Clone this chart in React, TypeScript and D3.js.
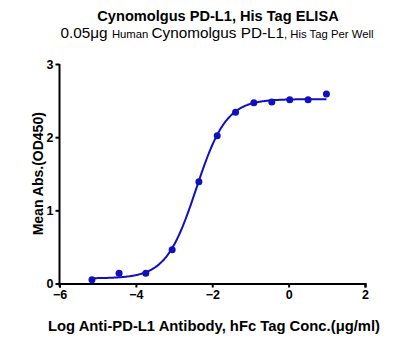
import React, { useEffect, useRef } from "react";
import * as d3 from "d3";

// measured points (log conc, mean OD450)
const logConc = [-5.15, -4.44, -3.74, -3.05, -2.35, -1.87, -1.39, -0.91, -0.44, 0.03, 0.51, 0.99];
const meanAbs = [0.05, 0.14, 0.14, 0.46, 1.39, 2.02, 2.34, 2.47, 2.48, 2.51, 2.51, 2.59];

// 4PL fit parameters
const fitBottom = 0.07;
const fitTop = 2.52;
const fitLogEC50 = -2.42;
const fitHill = 1.1;

const xTicks = [-6, -4, -2, 0, 2];
const yTicks = [0, 1, 2, 3];

const BLUE = "#1010c0";
const FONT = "'Liberation Sans', Arial, sans-serif";

const App: React.FC = () => {
  const ref = useRef<SVGSVGElement>(null);

  useEffect(() => {
    if (!ref.current) return;
    const svg = d3.select(ref.current);
    svg.selectAll("*").remove();

    const x = d3.scaleLinear().domain([-6, 2]).range([59.5, 365]);
    const y = d3.scaleLinear().domain([0, 3]).range([283.5, 64]);

    // title
    svg.append("text")
      .attr("x", 218).attr("y", 20.5)
      .attr("text-anchor", "middle")
      .style("font-family", FONT).style("font-weight", "bold").style("font-size", "14.6px")
      .text("Cynomolgus PD-L1, His Tag ELISA");

    const sub = svg.append("text")
      .attr("x", 217).attr("y", 38)
      .attr("text-anchor", "middle")
      .style("font-family", FONT);
    sub.append("tspan").style("font-size", "15.3px").text("0.05μg ");
    sub.append("tspan").style("font-size", "11.3px").text("Human ");
    sub.append("tspan").style("font-size", "15.3px").text("Cynomolgus PD-L1");
    sub.append("tspan").style("font-size", "11.3px").text(", His Tag Per Well");

    // axes
    const gx = svg.append("g").attr("transform", `translate(0,${y(0)})`)
      .call(d3.axisBottom(x).tickValues(xTicks).tickSize(4).tickPadding(3).tickFormat(d3.format("d")));
    const gy = svg.append("g").attr("transform", `translate(${x(-6)},0)`)
      .call(d3.axisLeft(y).tickValues(yTicks).tickSize(4).tickPadding(2).tickFormat(d3.format("d")));
    [gx, gy].forEach((g) => {
      g.select(".domain").attr("stroke", "#000").attr("stroke-width", 2);
      g.selectAll(".tick line").attr("stroke", "#000").attr("stroke-width", 2);
      g.selectAll(".tick text")
        .style("font-family", FONT).style("font-weight", "bold").style("font-size", "12.5px")
        .attr("fill", "#000");
    });
    gy.select(".domain").attr("d", `M0,${y(3)}V${y(0) + 3}`);
    gy.selectAll(".tick line").attr("x2", -4);

    // fit curve
    const fit = (lx: number) =>
      fitBottom + (fitTop - fitBottom) / (1 + Math.pow(10, (fitLogEC50 - lx) * fitHill));
    const curveXs = d3.range(logConc[0], logConc[logConc.length - 1] + 0.001, 0.02);
    svg.append("path")
      .datum(curveXs)
      .attr("fill", "none")
      .attr("stroke", BLUE)
      .attr("stroke-width", 2)
      .attr("d", d3.line<number>().x((d) => x(d)).y((d) => y(fit(d))).curve(d3.curveMonotoneX));

    // points
    svg.append("g").selectAll("circle")
      .data(logConc)
      .enter().append("circle")
      .attr("cx", (d) => x(d))
      .attr("cy", (d, i) => y(meanAbs[i]))
      .attr("r", 3.5)
      .attr("fill", BLUE);

    // axis labels
    svg.append("text")
      .attr("transform", `translate(43,${(y(0) + y(3)) / 2}) rotate(-90)`)
      .attr("text-anchor", "middle")
      .style("font-family", FONT).style("font-weight", "bold").style("font-size", "14px")
      .text("Mean Abs.(OD450)");

    svg.append("text")
      .attr("x", 214).attr("y", 331)
      .attr("text-anchor", "middle")
      .style("font-family", FONT).style("font-weight", "bold").style("font-size", "14.8px")
      .text("Log Anti-PD-L1 Antibody, hFc Tag Conc.(μg/ml)");
  }, []);

  return (
    <svg
      ref={ref}
      width={402}
      height={350}
      style={{ position: "absolute", left: 0, top: 0, background: "#fff" }}
    />
  );
};

export default App;
